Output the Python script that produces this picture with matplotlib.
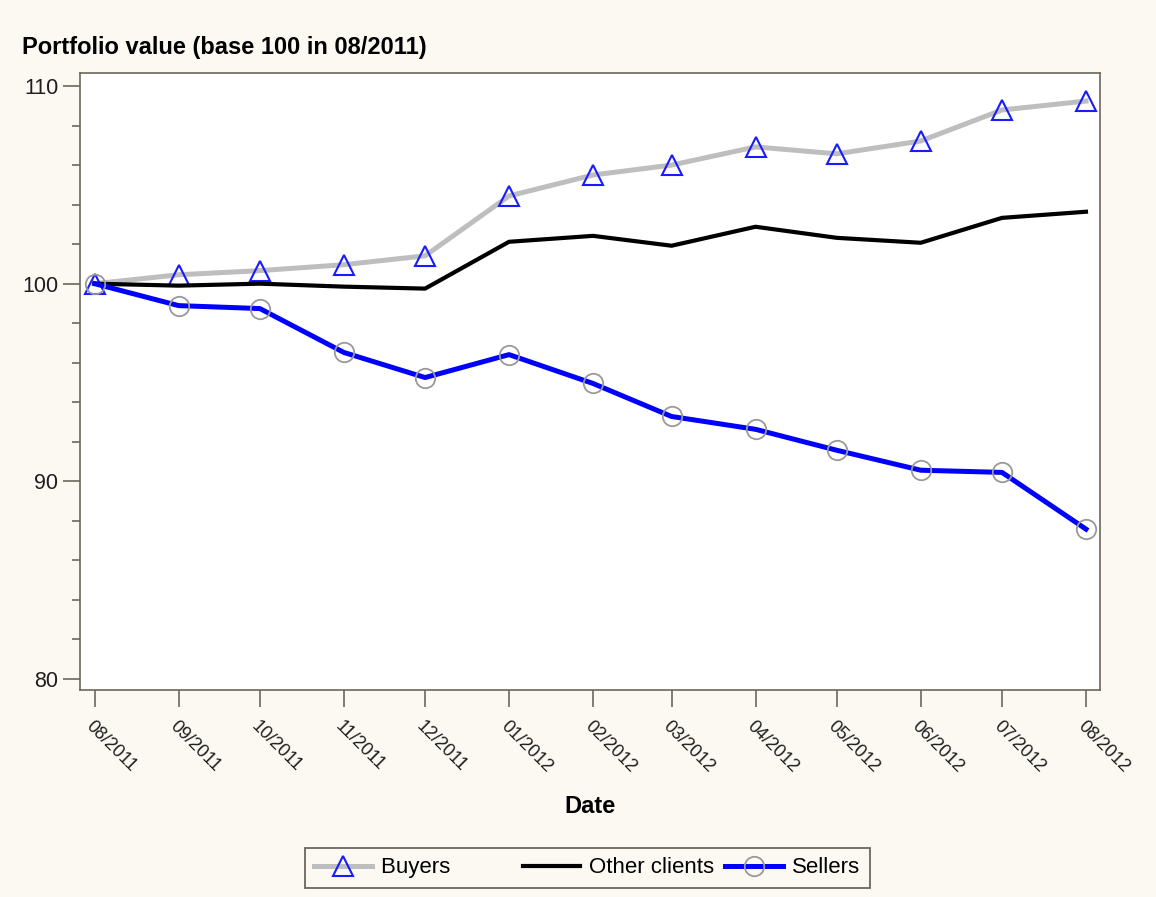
import matplotlib.pyplot as plt
import numpy as np
import datetime as dt

plt.rcParams['font.family'] = ['Liberation Sans', 'DejaVu Sans']

months = ['08/2011', '09/2011', '10/2011', '11/2011', '12/2011', '01/2012', '02/2012',
          '03/2012', '04/2012', '05/2012', '06/2012', '07/2012', '08/2012']
buyers = [100.0, 100.45, 100.66, 100.96, 101.41, 104.44, 105.5, 106.0, 106.92, 106.57,
          107.22, 108.79, 109.24]
others = [100.0, 99.9, 100.0, 99.85, 99.75, 102.12, 102.42, 101.92, 102.88, 102.32,
          102.07, 103.33, 103.64]
sellers = [100.0, 98.89, 98.74, 96.52, 95.25, 96.41, 94.95, 93.28, 92.63, 91.57,
           90.56, 90.45, 87.58]

dates = [dt.datetime.strptime('01/' + m, '%d/%m/%Y') for m in months]

bg = '#fcf9f2'
spine = '#6b675c'

fig = plt.figure(figsize=(11.56, 8.97), dpi=100, facecolor=bg)
ax = fig.add_axes([0.069, 0.2308, 0.8826, 0.6878])
ax.set_facecolor('white')

ax.plot(dates, buyers, color='#bebebe', lw=3.6, marker='^', ms=14, mfc='none',
        mec='#1a1aff', mew=1.5, label='Buyers', zorder=3)
ax.plot(dates, others, color='black', lw=3.0, label='Other clients', zorder=3)
ax.plot(dates, sellers, color='#0000ff', lw=3.6, marker='o', ms=14, mfc='none',
        mec='#999999', mew=1.3, label='Sellers', zorder=3)

ax.set_ylim(79.44, 110.66)
ax.set_yticks([80, 90, 100, 110])
ax.set_yticks(np.arange(80, 111, 2), minor=True)
ax.set_xlim(dates[0] - dt.timedelta(days=5.5), dates[-1] + dt.timedelta(days=5.2))
ax.set_xticks(dates)
ax.set_xticklabels(months, rotation=-45, ha='left', va='top', rotation_mode='anchor')

for s in ax.spines.values():
    s.set_color(spine)
    s.set_linewidth(1.2)
ax.tick_params(axis='both', which='major', length=12, width=1.2, color=spine,
               labelsize=15.5, labelcolor='#1e1e1e')
ax.tick_params(axis='y', which='minor', length=6, width=1.2, color=spine)
ax.tick_params(axis='x', pad=8, labelsize=13)

ax.set_xlabel('Date', fontsize=17, fontweight='bold', labelpad=14)
fig.text(0.019, 0.94, 'Portfolio value (base 100 in 08/2011)', fontsize=17,
         fontweight='bold', ha='left', va='baseline')

handles, labels = ax.get_legend_handles_labels()
labels[0] = labels[0] + '          '
leg = fig.legend(handles, labels, loc='center', bbox_to_anchor=(0.508, 0.0324), ncol=3,
                 fontsize=16, fancybox=False, framealpha=1, facecolor=bg, edgecolor=spine,
                 handlelength=2.6, columnspacing=0.5, borderpad=0.42, handletextpad=0.4)
leg.get_frame().set_linewidth(1.3)

fig.savefig('out.png', dpi=100, facecolor=bg)
